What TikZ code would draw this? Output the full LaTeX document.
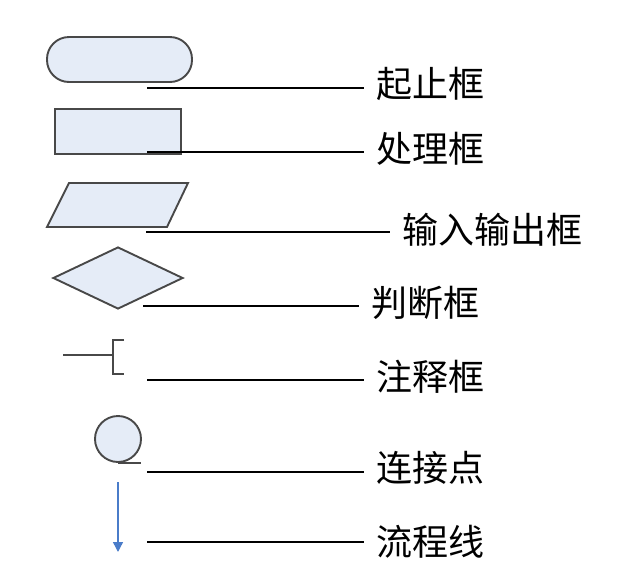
\documentclass[tikz,border=0pt]{standalone}
\usepackage{fontspec}
\newfontfamily\cjk{Noto Sans CJK SC}
\usetikzlibrary{calc}
\usetikzlibrary{positioning}
\usetikzlibrary{shapes.geometric}
\usetikzlibrary{arrows.meta}

\definecolor{boxfill}{HTML}{E5ECF7}
\definecolor{boxline}{HTML}{484848}
\definecolor{flowblue}{HTML}{4A7CC9}

\begin{document}
\begin{tikzpicture}[x=0.5pt,y=-0.5pt,
  shapebox/.style={draw=boxline,fill=boxfill,line width=0.95pt,inner sep=0pt},
  leader/.style={draw=black,line width=1.3pt,shorten >=6pt},
  lbl/.style={anchor=west,inner sep=0pt,font=\cjk\fontsize{18}{18}\selectfont}]
\useasboundingbox (0,0) rectangle (628,579);

\node[shapebox,rectangle,rounded corners=11pt,minimum width=72.5pt,minimum height=22.5pt] (term) at (119.5,59.5) {};
\node[shapebox,rectangle,minimum width=63pt,minimum height=22.5pt] (proc) at (118,131.5) {};
\draw[shapebox] (69,183) -- (188,183) -- (167,227) -- (47,227) -- cycle;
\node[shapebox,diamond,minimum width=65pt,minimum height=31pt] (decide) at (118,278) {};
\node[shapebox,circle,minimum size=23pt] (conn) at (118,439) {};

\draw[boxline,line width=0.7pt] (63,355) -- (113,355);
\draw[boxline,line width=0.7pt] (124,340) -- (113,340) -- (113,374) -- (124,374);
\draw[boxline,line width=0.7pt] (conn.south) -- ++(23,0);
\coordinate (flowtop) at (118,482);
\coordinate (flowend) at (118,552);
\draw[flowblue,line width=0.7pt,-{Triangle[length=5pt,width=5pt]}] (flowtop) -- (flowend);

\coordinate (s1) at (147,88);
\coordinate (s2) at (147,152);
\coordinate (s3) at (146,232);
\coordinate (s4) at (143,306);
\coordinate (s5) at (147,380);
\coordinate (s6) at (147,472);
\coordinate (s7) at (147,542);

\node[lbl] (l1) at (376,84) {起止框};
\node[lbl] (l2) at (376,149) {处理框};
\node[lbl] (l3) at (402,230) {输入输出框};
\node[lbl] (l4) at (371,303) {判断框};
\node[lbl] (l5) at (376,377) {注释框};
\node[lbl] (l6) at (376,468) {连接点};
\node[lbl] (l7) at (376,542) {流程线};

\draw[leader] (s1) -- (l1.west |- s1);
\draw[leader] (s2) -- (l2.west |- s2);
\draw[leader] (s3) -- (l3.west |- s3);
\draw[leader] (s4) -- (l4.west |- s4);
\draw[leader] (s5) -- (l5.west |- s5);
\draw[leader] (s6) -- (l6.west |- s6);
\draw[leader] (s7) -- (l7.west |- s7);

\end{tikzpicture}
\end{document}
